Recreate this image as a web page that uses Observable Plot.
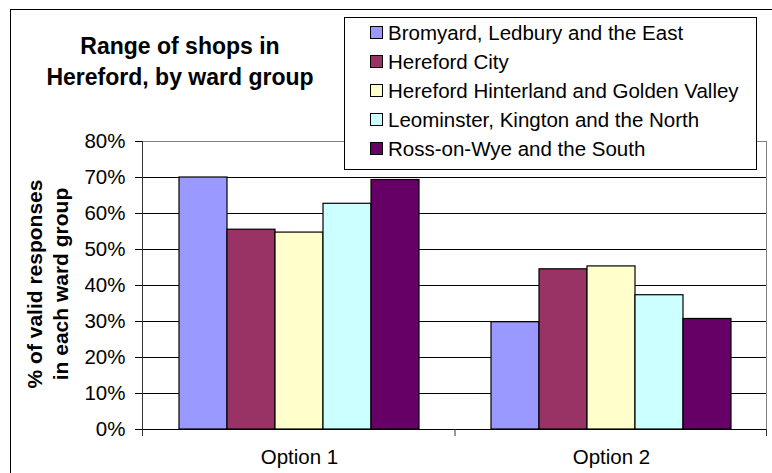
<!DOCTYPE html>
<html><head><meta charset="utf-8">
<script src="https://cdn.jsdelivr.net/npm/d3@7"></script>
<script src="https://cdn.jsdelivr.net/npm/@observablehq/plot@0.6"></script>
<style>
html,body{margin:0;padding:0;background:#fff;}
#wrap{position:relative;width:772px;height:473px;overflow:hidden;font-family:"Liberation Sans",Arial,sans-serif;color:#000;}
#chart{position:absolute;left:0;top:0;}
#border{position:absolute;left:10px;top:9px;width:900px;height:600px;border-left:1px solid #000;border-top:1px solid #000;}
#title{position:absolute;left:40px;width:280px;top:31px;text-align:center;font-weight:bold;font-size:23px;line-height:31px;}
#ytitle{position:absolute;left:-82px;top:258px;width:260px;height:52px;transform:rotate(-90deg);transform-origin:50% 50%;text-align:center;font-weight:bold;font-size:21px;line-height:26px;white-space:nowrap;}
#legend{position:absolute;left:344px;top:17px;width:413px;height:153px;border:1px solid #000;background:#fff;box-sizing:border-box;}
.row{position:absolute;left:0;height:29px;line-height:29px;font-size:20.5px;white-space:nowrap;}
.sw{position:absolute;left:25px;top:8px;width:11px;height:11px;border:1px solid #000;}
.lt{position:absolute;left:43px;top:0;}
</style>
</head><body>
<div id="wrap">
  <div id="border"></div>
  <div id="chart"></div>
  <div id="title"></div>
  <div id="ytitle"></div>
  <div id="legend"></div>
</div>
<script>
// ---- data ----
const titleLines = ["Range of shops in", "Hereford, by ward group"];
const yTitleLines = ["% of valid responses", "in each ward group"];
const options = ["Option 1", "Option 2"];
const series = [
  "Bromyard, Ledbury and the East",
  "Hereford City",
  "Hereford Hinterland and Golden Valley",
  "Leominster, Kington and the North",
  "Ross-on-Wye and the South"
];
const option1Values = [70.0, 55.5, 54.7, 62.7, 69.3];
const option2Values = [29.8, 44.5, 45.3, 37.3, 30.7];
const colors = ["#9999FF", "#993366", "#FFFFCC", "#CCFFFF", "#660066"];
const yTicks = [0, 10, 20, 30, 40, 50, 60, 70, 80];

const data = [];
series.forEach((s, i) => {
  data.push({option: options[0], series: s, value: option1Values[i]});
  data.push({option: options[1], series: s, value: option2Values[i]});
});

const chart = Plot.plot({
  width: 772,
  height: 473,
  marginLeft: 142,
  marginRight: 5,
  marginTop: 141,
  marginBottom: 44,
  style: {fontFamily: "'Liberation Sans', Arial, sans-serif", fontSize: "20.5px", background: "transparent", color: "#000"},
  fx: {domain: options, padding: 0, label: null, tickSize: 0, tickPadding: 20},
  x: {domain: series, paddingInner: 0, paddingOuter: 0.73, axis: null},
  y: {domain: [0, 80], ticks: yTicks, tickFormat: d => d + "%", tickSize: 8, tickPadding: 10, label: null},
  color: {domain: series, range: colors},
  marks: [
    Plot.ruleY(yTicks.filter(t => t > 0 && t < 80), {stroke: "#000", strokeWidth: 1}),
    Plot.ruleY([80], {stroke: "#808080", strokeWidth: 1}),
    Plot.barY(data, {fx: "option", x: "series", y: "value", fill: "series", stroke: "#000", strokeWidth: 1.2}),
    Plot.ruleY([0], {stroke: "#000", strokeWidth: 1})
  ]
});
document.getElementById("chart").appendChild(chart);

// plot-area border, axis line and category boundary ticks, from the library's scales
const svg = d3.select(chart.tagName.toLowerCase() === "svg" ? chart : chart.querySelector("svg"));
const fxs = chart.scale("fx");
const ys = chart.scale("y");
const left = Math.min(...fxs.range), right = Math.max(...fxs.range);
const yTop = Math.min(...ys.range), yBot = Math.max(...ys.range);
const g = svg.append("g");
g.append("line").attr("x1", right - 0.5).attr("x2", right - 0.5).attr("y1", yTop).attr("y2", yBot).attr("stroke", "#808080");
g.append("line").attr("x1", left + 0.5).attr("x2", left + 0.5).attr("y1", yTop).attr("y2", yBot + 0.5).attr("stroke", "#333");
const step = (right - left) / options.length;
for (let i = 0; i <= options.length; i++) {
  const xx = left + i * step + (i === options.length ? -0.5 : 0.5);
  g.append("line").attr("x1", xx).attr("x2", xx).attr("y1", yBot).attr("y2", yBot + 7).attr("stroke", "#333");
}

// title
document.getElementById("title").innerHTML = titleLines.join("<br>");
document.getElementById("ytitle").innerHTML = yTitleLines.join("<br>");

// legend
const leg = document.getElementById("legend");
series.forEach((s, i) => {
  const r = document.createElement("div");
  r.className = "row";
  r.style.top = (i * 29) + "px";
  r.innerHTML = `<span class="sw" style="background:${colors[i]}"></span><span class="lt">${s}</span>`;
  leg.appendChild(r);
});
</script>
</body></html>
